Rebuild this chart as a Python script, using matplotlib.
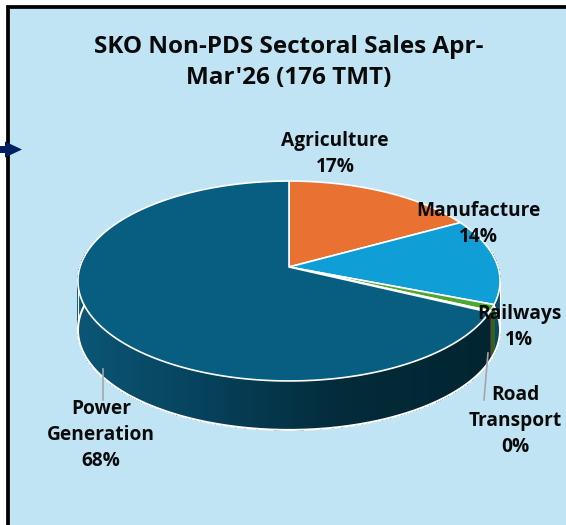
import numpy as np
import matplotlib
matplotlib.use("Agg")
import matplotlib.pyplot as plt
from matplotlib.patches import Polygon, Rectangle, FancyArrow

# Sector shares as printed on the chart (road transport is a sliver rounded to 0%)
sectors = ["Agriculture", "Manufacture", "Railways", "Road\nTransport", "Power\nGeneration"]
shares = [17, 14, 1, 0.2, 68]
printed = ["17%", "14%", "1%", "0%", "68%"]
top_colors = ["#E97132", "#0F9ED5", "#4EA72E", "#A02B93", "#075E80"]
side_colors = ["#8C441E", "#094A66", "#2F641B", "#60195A", "#043448"]

title = "SKO Non-PDS Sectoral Sales Apr-\nMar'26 (176 TMT)"
label_pos = [(335, 154), (478, 224), (519, 327), (515, 421), (101, 435)]

plt.rcParams["font.family"] = ["Open Sans", "DejaVu Sans"]

fig = plt.figure(figsize=(5.66, 5.25), dpi=100)
ax = fig.add_axes([0, 0, 1, 1])
ax.set_xlim(0, 566)
ax.set_ylim(525, 0)
ax.axis("off")

# Panel
ax.add_patch(Rectangle((8.4, 7.4), 570, 530, fc="#C1E4F5", ec="black", lw=2.7, zorder=1))
ax.add_patch(FancyArrow(0, 149.5, 22, 0, width=7, head_width=16, head_length=17,
                        length_includes_head=True, fc="#002060", ec="none", zorder=2))

# Perspective projection of the pie disc
cx, cy = 289, 267
depth = 49
k, a, c = 209, 98, 0.14


def project(angle):
    u, v = np.sin(angle), np.cos(angle)
    den = 1 + c * v
    return cx + k * u / den, cy - a * v / den


def shade(x):
    # dark band of the rim, lightest at the left end
    stops_x = [78, 200, 340, 500]
    stops = np.array([[0x0B, 0x55, 0x75], [0x06, 0x42, 0x5C], [0x03, 0x2B, 0x3A], [0x02, 0x24, 0x30]]) / 255
    return [np.interp(x, stops_x, stops[:, i]) for i in range(3)]


fractions = np.array(shares) / sum(shares)
edges = np.concatenate([[0], np.cumsum(fractions)]) * 2 * np.pi

# Rim (front half only), then top face
for i in range(len(shares)):
    lo = max(edges[i], 0.45 * np.pi)
    hi = min(edges[i + 1], 1.55 * np.pi)
    if hi <= lo:
        continue
    ts = np.linspace(lo, hi, max(int((hi - lo) * 100), 2))
    for t0, t1 in zip(ts[:-1], ts[1:]):
        x0, y0 = project(t0)
        x1, y1 = project(t1)
        col = shade((x0 + x1) / 2) if i == 4 else side_colors[i]
        ax.add_patch(Polygon([(x0, y0), (x1, y1), (x1, y1 + depth), (x0, y0 + depth)],
                             fc=col, ec=col, lw=0.4, antialiased=False, zorder=3))

t = np.linspace(0.45 * np.pi, 1.55 * np.pi, 300)
bx, by = project(t)
ax.plot(bx, by + depth, color="white", lw=1.5, zorder=4)
ax.plot([bx.max() + 0.3] * 2, [by[np.argmax(bx)], by[np.argmax(bx)] + depth], color="white", lw=0.8, zorder=4)
ax.plot([bx.min() - 0.3] * 2, [by[np.argmin(bx)], by[np.argmin(bx)] + depth], color="white", lw=0.8, zorder=4)

for i in range(len(shares)):
    ts = np.linspace(edges[i], edges[i + 1], max(int((edges[i + 1] - edges[i]) * 60), 3))
    px, py = project(ts)
    pts = [(cx, cy)] + list(zip(px, py))
    ax.add_patch(Polygon(pts, fc=top_colors[i], ec="white", lw=1.2, joinstyle="round", zorder=5))

# Leader lines
ax.plot([103, 103], [369, 400], color="#A6A6A6", lw=1.2, zorder=6)
ax.plot([488, 484], [353, 400], color="#A6A6A6", lw=1.2, zorder=6)

# Text
ax.text(289, 62.5, title, ha="center", va="center", fontsize=17.5, fontweight="bold",
        color="#0A0A0A", linespacing=1.34, zorder=7)
for name, pct, (lx, ly) in zip(sectors, printed, label_pos):
    ax.text(lx, ly, name + "\n" + pct, ha="center", va="center", fontsize=13.8,
            fontweight="bold", color="#0A0A0A", linespacing=1.43, zorder=7)

fig.savefig("out.png", dpi=100)
